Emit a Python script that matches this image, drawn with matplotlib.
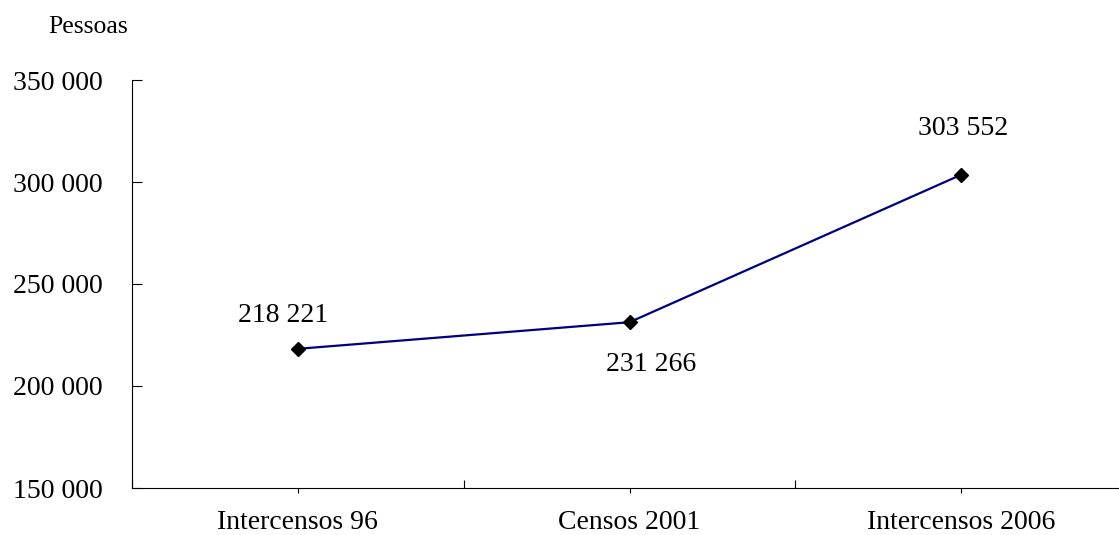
import matplotlib.pyplot as plt
import numpy as np

plt.rcParams['font.family'] = ['Liberation Serif', 'DejaVu Serif']

categories = ['Intercensos 96', 'Censos 2001', 'Intercensos 2006']
values = [218221, 231266, 303552]
y_ticks = [150000, 200000, 250000, 300000, 350000]


def fmt(v):
    return '{:,}'.format(int(v)).replace(',', ' ')


fig = plt.figure(figsize=(11.19, 5.35), dpi=100)
ax = fig.add_axes([132 / 1119, 1 - 488 / 535, 995 / 1119, 408 / 535])

x = np.arange(len(categories))
ax.plot(x, values, color='#000080', lw=1.6, marker='D', ms=7,
        mfc='black', mec='black', zorder=3)

# data label offsets in pixels (baseline relative to the point)
offsets = [(-15, 27), (22, -49), (2, 40)]
for xi, v, (dx, dy) in zip(x, values, offsets):
    ax.annotate(fmt(v), (xi, v), xytext=(dx * 0.72, dy * 0.72),
                textcoords='offset points', ha='center', va='baseline',
                fontsize=20)

ax.set_xlim(-0.5, 2.5)
ax.set_ylim(150000, 350000)
ax.set_yticks(y_ticks)
ax.set_yticklabels([fmt(v) for v in y_ticks])
ax.tick_params(axis='y', direction='in', length=7, width=0.8,
               labelsize=20, pad=21)

ax.set_xticks(x)
ax.set_xticklabels(categories)
ax.set_xticks([-0.5, 0.5, 1.5, 2.5], minor=True)
ax.tick_params(axis='x', which='major', direction='out', length=3.6,
               width=0.8, labelsize=20, pad=12)
ax.tick_params(axis='x', which='minor', direction='in', length=5.8,
               width=0.8)

for s in ['top', 'right']:
    ax.spines[s].set_visible(False)
for s in ['left', 'bottom']:
    ax.spines[s].set_linewidth(0.8)

fig.text(48 / 1119, 1 - 33 / 535, 'Pessoas', fontsize=18.5,
         ha='left', va='baseline')

fig.savefig('out.png', dpi=100)
